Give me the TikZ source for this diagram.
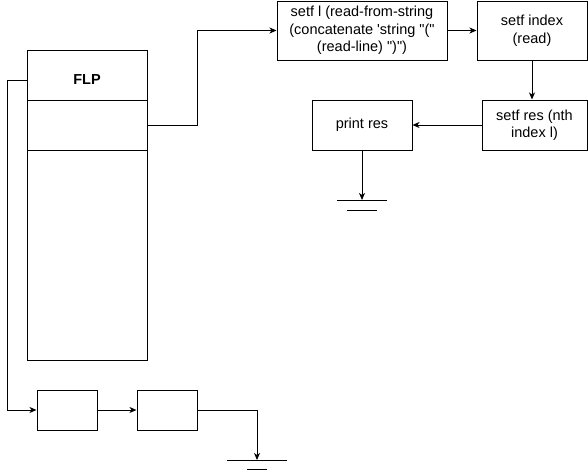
\documentclass[tikz,border=0pt]{standalone}
\usepackage{fontspec}
\setmainfont{Liberation Sans}[Ligatures=TeXOff]
\usetikzlibrary{arrows.meta}
\begin{document}
\begin{tikzpicture}[x=1pt,y=-1pt,line width=1pt,
  box/.style={draw,rectangle,inner sep=0pt,align=center,font=\fontsize{14.5}{17.5}\selectfont},
  arr/.style={-{Stealth[length=7pt,width=6pt,inset=2pt]}},
  gnd/.style={line width=1pt}]
\useasboundingbox (0,0) rectangle (588,472);
% FLP stack
\node[box,minimum width=120pt,minimum height=50pt] (cellA) at (87,75) {};
\node[font=\fontsize{14.5}{17}\selectfont\bfseries,inner sep=0pt] (flp) at (87,80) {FLP};
\node[box,minimum width=120pt,minimum height=50pt] (cellB) at (87,125) {};
\node[box,minimum width=120pt,minimum height=210pt] (cellC) at (87,255) {};
% top boxes
\node[box,minimum width=170pt,minimum height=59pt] (b1) at (362,30.5) {setf l (read-from-string\\(concatenate 'string "("\\(read-line) ")")};
\node[box,minimum width=110pt,minimum height=59pt] (b2) at (532,30.5) {setf index\\(read)};
\node[box,minimum width=105pt,minimum height=50pt] (b3) at (534.5,125) {setf res (nth\\index l)};
\node[box,minimum width=100pt,minimum height=50pt] (pr) at (362,125) {print res};
% bottom boxes
\node[box,minimum width=60pt,minimum height=40pt] (bA) at (67,410) {};
\node[box,minimum width=60pt,minimum height=40pt] (bB) at (167,410) {};
% grounds
\coordinate (g1) at (362,200);
\coordinate (g2) at (257,460);
\coordinate (flpw) at (cellA.west |- flp);
% connectors
\draw[arr] (cellB.east) -- ++(50,0) |- (b1.west);
\draw[arr] (b1.east) -- (b2.west);
\draw[arr] (b2.south) -- (b2.south |- b3.north);
\draw[arr] (b3.west) -- (pr.east);
\draw[arr] (pr.south) -- (g1);
\draw[arr] (flpw) -- ++(-19,0) |- (bA.west);
\draw[arr] (bA.east) -- (bB.west);
\draw[arr] (bB.east) -| (g2);
% ground symbols
\draw[gnd] ([xshift=-25pt]g1) -- ([xshift=25pt]g1);
\draw[gnd] ([xshift=-15pt,yshift=-10pt]g1) -- ([xshift=15pt,yshift=-10pt]g1);
\draw[gnd] ([xshift=-30pt]g2) -- ([xshift=30pt]g2);
\draw[gnd] ([xshift=-10pt,yshift=-9pt]g2) -- ([xshift=10pt,yshift=-9pt]g2);
\end{tikzpicture}
\end{document}
